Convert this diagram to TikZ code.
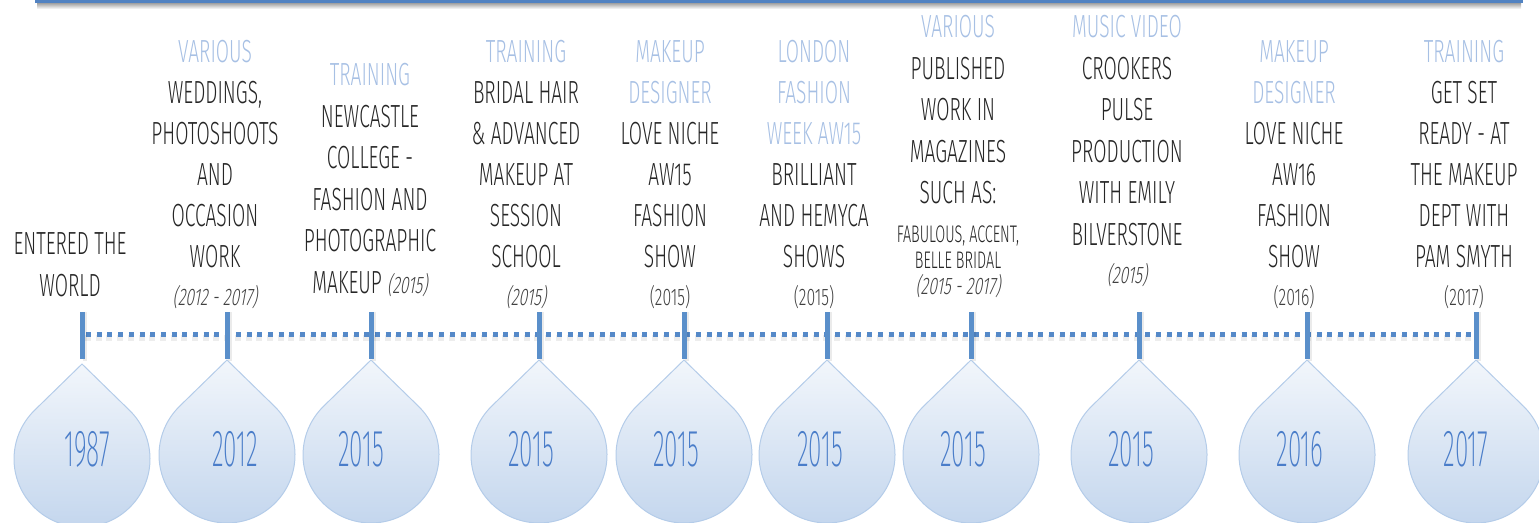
\documentclass[tikz,border=0pt]{standalone}
\usepackage{fontspec}
\setmainfont{Fira Sans}
\newfontfamily\bodyf{Fira Sans Light}[FakeStretch=0.6]
\newfontfamily\yearf{Fira Sans ExtraLight}[FakeStretch=0.47]
\newfontfamily\datef{Fira Sans Light}[FakeStretch=0.66,FakeSlant=0.18]
\newfontfamily\dateu{Fira Sans Light}[FakeStretch=0.66]
\definecolor{bodytxt}{HTML}{262626}
\definecolor{catblue}{HTML}{A7C0E4}
\definecolor{datetxt}{HTML}{404040}
\definecolor{yearblue}{HTML}{4A7DC9}
\definecolor{tickblue}{HTML}{5A8FCA}
\definecolor{dotblue}{HTML}{5589C8}
\definecolor{barblue}{HTML}{5283C2}
\definecolor{dropedge}{HTML}{B4CCE9}
\definecolor{droptop}{HTML}{F2F6FB}
\definecolor{dropbot}{HTML}{C2D5ED}
\tikzset{
  body/.style={anchor=base, inner sep=0pt, text=bodytxt, font=\bodyf\fontsize{32}{32}\selectfont},
  cat/.style={body, text=catblue},
  small/.style={body, font=\bodyf\fontsize{24}{24}\selectfont},
  datei/.style={anchor=base, inner sep=0pt, text=datetxt, font=\datef\fontsize{24}{24}\selectfont},
  dateup/.style={anchor=base, inner sep=0pt, text=datetxt, font=\dateu\fontsize{24}{24}\selectfont},
  yeartxt/.style={anchor=base, inner sep=0pt, text=yearblue, font=\yearf\fontsize{52}{52}\selectfont},
  tickbar/.style={fill=tickblue, draw=none, minimum width=5pt, minimum height=47pt, inner sep=0pt},
  dotline/.style={draw=dotblue, line width=5pt, dash pattern=on 5pt off 5.7pt},
  dotshadow/.style={draw=black, opacity=0.07, line width=6pt, dash pattern=on 6pt off 4.7pt},
  drop/.style={draw=dropedge, line width=1pt, top color=droptop, bottom color=dropbot},
}
\newcommand\txtline[5]{\node[#1] (#2) at (#3,#4) {#5};}
\newcommand\dropat[3]{\path[drop] (#1,#2) -- ++(47.5,46.3) arc[start angle=-45.7, end angle=225.7, radius=68] -- cycle;}
\begin{document}
\begin{tikzpicture}[x=1pt,y=-1pt]
\useasboundingbox (0,0) rectangle (1539,522);
% top bar
\shade[top color=black!40, bottom color=white] (37,2.5) rectangle (1521,9);
\fill[barblue] (35,-2) rectangle (1523,2.6);
% drops
\dropat{82}{364}{459}
\dropat{227}{360}{455}
\dropat{371}{360}{455}
\dropat{539}{360}{455}
\dropat{684}{360}{455}
\dropat{827}{360}{455}
\dropat{971}{360}{455}
\dropat{1139}{360}{455}
\dropat{1307}{360}{455}
\dropat{1476}{360}{455}
% timeline
\coordinate (k1) at (82,334.5);
\coordinate (k2) at (227,334.5);
\coordinate (k3) at (371,334.5);
\coordinate (k4) at (539,334.5);
\coordinate (k5) at (684,334.5);
\coordinate (k6) at (827,334.5);
\coordinate (k7) at (971,334.5);
\coordinate (k8) at (1139,334.5);
\coordinate (k9) at (1307,334.5);
\coordinate (k10) at (1476,334.5);
\draw[dotshadow] ([xshift=3pt,yshift=-3pt]k1) -- ([yshift=-3pt]k10);
\draw[dotline] ([xshift=4pt]k1) -- (k10);
\foreach \i in {1,...,10} {
  \fill[black, opacity=0.08] ([xshift=1pt,yshift=-26pt]k\i) rectangle ([xshift=4.5pt,yshift=23pt]k\i);
  \node[tickbar] (tk\i) at ([yshift=-1pt]k\i) {};
}
% years
\txtline{yeartxt}{y1}{87}{466}{1987}
\txtline{yeartxt}{y2}{235}{466}{2012}
\txtline{yeartxt}{y3}{361}{466}{2015}
\txtline{yeartxt}{y4}{531}{466}{2015}
\txtline{yeartxt}{y5}{676}{466}{2015}
\txtline{yeartxt}{y6}{820}{466}{2015}
\txtline{yeartxt}{y7}{963}{466}{2015}
\txtline{yeartxt}{y8}{1131}{466}{2015}
\txtline{yeartxt}{y9}{1300}{466}{2016}
\txtline{yeartxt}{y10}{1466}{466}{2017}
% column 1
\txtline{body}{a1}{70}{254}{ENTERED THE}
\txtline{body}{a2}{70}{296}{WORLD}
% column 2
\txtline{cat}{b1}{215}{62}{VARIOUS}
\txtline{body}{b2}{215}{103}{WEDDINGS,}
\txtline{body}{b3}{215}{144}{PHOTOSHOOTS}
\txtline{body}{b4}{215}{185}{AND}
\txtline{body}{b5}{215}{226}{OCCASION}
\txtline{body}{b6}{215}{267}{WORK}
\txtline{datei}{b7}{215}{305}{(2012 - 2017)}
% column 3
\txtline{cat}{c1}{370}{85}{TRAINING}
\txtline{body}{c2}{370}{127}{NEWCASTLE}
\txtline{body}{c3}{370}{168}{COLLEGE -}
\txtline{body}{c4}{370}{210}{FASHION AND}
\txtline{body}{c5}{370}{251}{PHOTOGRAPHIC}
\txtline{body}{c6}{370}{293}{MAKEUP {\datef\fontsize{24}{24}\selectfont\color{datetxt}(2015)}}
% column 4
\txtline{cat}{d1}{526}{62}{TRAINING}
\txtline{body}{d2}{526}{103}{BRIDAL HAIR}
\txtline{body}{d3}{526}{144}{\& ADVANCED}
\txtline{body}{d4}{526}{185}{MAKEUP AT}
\txtline{body}{d5}{526}{226}{SESSION}
\txtline{body}{d6}{526}{267}{SCHOOL}
\txtline{datei}{d7}{526}{305}{(2015)}
% column 5
\txtline{cat}{e1}{670}{62}{MAKEUP}
\txtline{cat}{e2}{670}{103}{DESIGNER}
\txtline{body}{e3}{670}{144}{LOVE NICHE}
\txtline{body}{e4}{670}{185}{AW15}
\txtline{body}{e5}{670}{226}{FASHION}
\txtline{body}{e6}{670}{267}{SHOW}
\txtline{dateup}{e7}{670}{305}{(2015)}
% column 6
\txtline{cat}{f1}{814}{62}{LONDON}
\txtline{cat}{f2}{814}{103}{FASHION}
\txtline{cat}{f3}{814}{144}{WEEK AW15}
\txtline{body}{f4}{814}{185}{BRILLIANT}
\txtline{body}{f5}{814}{226}{AND HEMYCA}
\txtline{body}{f6}{814}{267}{SHOWS}
\txtline{dateup}{f7}{814}{305}{(2015)}
% column 7
\txtline{cat}{g1}{958}{37}{VARIOUS}
\txtline{body}{g2}{958}{79}{PUBLISHED}
\txtline{body}{g3}{958}{120}{WORK IN}
\txtline{body}{g4}{958}{162}{MAGAZINES}
\txtline{body}{g5}{958}{203}{SUCH AS:}
\txtline{small}{g6}{958}{242}{FABULOUS, ACCENT,}
\txtline{small}{g7}{958}{268}{BELLE BRIDAL}
\txtline{datei}{g8}{958}{294}{(2015 - 2017)}
% column 8
\txtline{cat}{h1}{1127}{37}{MUSIC VIDEO}
\txtline{body}{h2}{1127}{79}{CROOKERS}
\txtline{body}{h3}{1127}{120}{PULSE}
\txtline{body}{h4}{1127}{162}{PRODUCTION}
\txtline{body}{h5}{1127}{203}{WITH EMILY}
\txtline{body}{h6}{1127}{245}{BILVERSTONE}
\txtline{datei}{h7}{1127}{283}{(2015)}
% column 9
\txtline{cat}{i1}{1294}{62}{MAKEUP}
\txtline{cat}{i2}{1294}{103}{DESIGNER}
\txtline{body}{i3}{1294}{144}{LOVE NICHE}
\txtline{body}{i4}{1294}{185}{AW16}
\txtline{body}{i5}{1294}{226}{FASHION}
\txtline{body}{i6}{1294}{267}{SHOW}
\txtline{dateup}{i7}{1294}{305}{(2016)}
% column 10
\txtline{cat}{j1}{1464}{62}{TRAINING}
\txtline{body}{j2}{1464}{103}{GET SET}
\txtline{body}{j3}{1464}{144}{READY - AT}
\txtline{body}{j4}{1464}{185}{THE MAKEUP}
\txtline{body}{j5}{1464}{226}{DEPT WITH}
\txtline{body}{j6}{1464}{267}{PAM SMYTH}
\txtline{dateup}{j7}{1464}{305}{(2017)}
\end{tikzpicture}
\end{document}
